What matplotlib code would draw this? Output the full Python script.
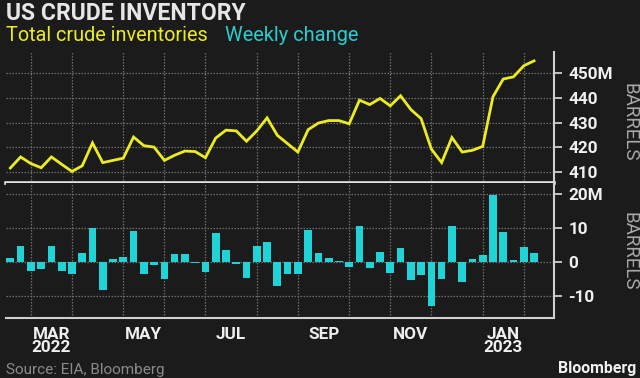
import matplotlib
matplotlib.use("Agg")
import matplotlib.pyplot as plt
import matplotlib.dates as mdates
import numpy as np
import pandas as pd

# weekly EIA data, week ending Friday
weeks = pd.date_range("2022-02-18", periods=52, freq="W-FRI")

inventory = [411.5, 416.0, 413.3, 411.6, 416.0, 413.0, 410.1, 412.4, 421.7, 413.7,
             414.6, 415.5, 424.1, 420.6, 420.0, 414.6, 416.7, 418.4, 418.2, 415.7,
             423.7, 426.9, 426.6, 422.4, 426.6, 431.9, 424.8, 421.4, 418.0, 427.1,
             429.8, 430.8, 430.8, 429.5, 439.1, 437.3, 439.8, 436.8, 440.9, 435.3,
             431.6, 419.2, 413.7, 423.9, 418.0, 418.7, 420.3, 440.5, 447.7, 448.6,
             453.1, 455.1]

weekly_change = [1.3, 4.8, -2.7, -2.0, 4.6, -2.6, -3.6, 2.7, 9.8, -8.1,
                 0.9, 1.6, 9.0, -3.6, -1.0, -5.1, 2.4, 2.3, -0.3, -2.8,
                 8.5, 3.5, -0.5, -4.7, 4.8, 5.8, -7.1, -3.5, -3.5, 9.3,
                 2.7, 1.3, 0.4, -1.4, 10.4, -1.8, 2.9, -3.3, 4.1, -5.4,
                 -3.8, -13.0, -5.1, 10.6, -6.0, 1.0, 2.0, 19.6, 8.9, 0.7,
                 4.5, 2.7]

inv_ticks = [410, 420, 430, 440, 450]
inv_labels = ["410", "420", "430", "440", "450M"]
chg_ticks = [-10, 0, 10, 20]
chg_labels = ["-10", "0", "10", "20M"]
month_labels = ["MAR\n2022", "MAY", "JUL", "SEP", "NOV", "JAN\n2023"]

BG = "#1b1b1b"
YELLOW = "#ecec1e"
CYAN = "#1fd3d7"
AXIS = "#cfcfcf"
GRID = "#6e6e6e"
FONT = ["Roboto", "DejaVu Sans"]

plt.rcParams["font.family"] = FONT

fig = plt.figure(figsize=(6.4, 3.78), dpi=100, facecolor=BG)
W, H = 640, 378
left, right = 5.5 / W, 554 / W
ax1 = fig.add_axes([left, 1 - 183 / H, right - left, (183 - 52) / H])
ax2 = fig.add_axes([left, 1 - 317.7 / H, right - left, (317.7 - 183) / H])

x = mdates.date2num(weeks)
week = 7.0
xlim = (x[0] - 3.3, x[-1] + 13.6)

# first Friday of each month -> vertical gridlines
grid_x = [d for d, w in zip(x, weeks) if w.day <= 7]
label_x = [(grid_x[i] + grid_x[i + 1]) / 2 for i in range(0, 12, 2)]

ax1.plot(x, inventory, color=YELLOW, lw=2.0, solid_joinstyle="miter", zorder=3)
ax2.bar(x, weekly_change, width=week * 0.75, color=CYAN, zorder=3)

for ax, ticks, labels, ylim in [(ax1, inv_ticks, inv_labels, (405.4, 458.7)),
                                (ax2, chg_ticks, chg_labels, (-16.3, 23.1))]:
    ax.set_facecolor(BG)
    ax.set_xlim(*xlim)
    ax.set_ylim(*ylim)
    for gx in grid_x:
        ax.axvline(gx, color=GRID, lw=0.9, ls=(0, (1.2, 1.2)), zorder=1)
    for gy in ticks:
        ax.axhline(gy, color=GRID, lw=0.9, ls=(0, (1.2, 1.2)), zorder=1)
    ax.yaxis.tick_right()
    ax.set_yticks(ticks)
    ax.set_yticklabels(labels)
    ax.tick_params(axis="y", direction="out", length=6, width=1.3, color=AXIS,
                   pad=4.5, labelsize=12.3, labelcolor="#efefef")
    for lab in ax.get_yticklabels():
        lab.set_fontweight("bold")
    for s in ["left", "top"]:
        ax.spines[s].set_visible(False)
    ax.spines["right"].set_color(AXIS)
    ax.spines["right"].set_linewidth(1.5)

ax1.set_xticks([])
ax1.spines["bottom"].set_color("#e4e4e4")
ax1.spines["bottom"].set_linewidth(2.6)
ax1.spines["bottom"].set_zorder(5)
ax2.spines["bottom"].set_color(AXIS)
ax2.spines["bottom"].set_linewidth(1.5)

ax2.set_xticks(label_x)
ax2.set_xticklabels(month_labels, fontweight="bold", fontsize=12.3, color="#efefef",
                    linespacing=0.85)
ax2.tick_params(axis="x", length=0, pad=6.5)

fig.text(629 / W, 1 - 122.5 / H, "BARRELS", rotation=270, ha="center", va="center",
         color="#a8a8a8", fontsize=13.5)
fig.text(629 / W, 1 - 251 / H, "BARRELS", rotation=270, ha="center", va="center",
         color="#a8a8a8", fontsize=13.5)

fig.text(6 / W, 1 - 19.5 / H, "US CRUDE INVENTORY", color="#e6e6e6", fontsize=16.6,
         fontweight="bold", va="baseline")
fig.text(6 / W, 1 - 40.7 / H, "Total crude inventories", color=YELLOW, fontsize=14.3,
         va="baseline")
fig.text(225 / W, 1 - 40.7 / H, "Weekly change", color="#2ccbcf", fontsize=14.4,
         va="baseline")
fig.text(6 / W, 1 - 374 / H, "Source: EIA, Bloomberg", color="#8a8a8a", fontsize=11,
         va="baseline")
fig.text(636 / W, 1 - 373 / H, "Bloomberg", color="#f0f0f0", fontsize=11.4,
         fontweight="bold", ha="right", va="baseline")

fig.savefig("out.png", dpi=100, facecolor=BG)
